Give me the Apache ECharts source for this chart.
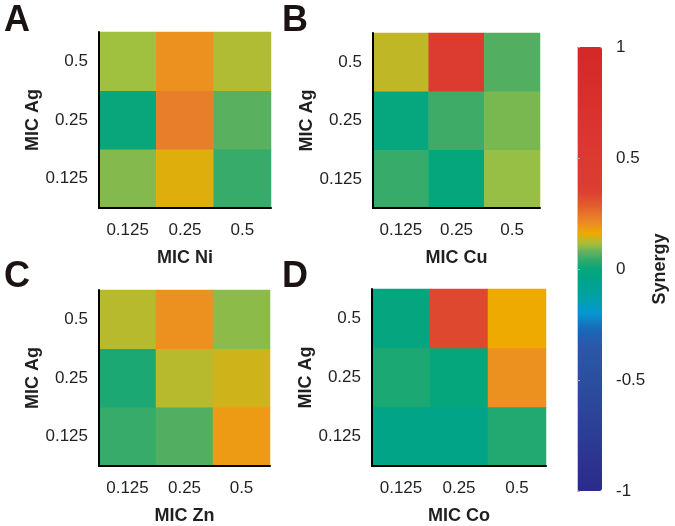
<!DOCTYPE html>
<html>
<head>
<meta charset="utf-8">
<script src="https://cdn.jsdelivr.net/npm/echarts@6/dist/echarts.min.js"></script>
<style>
  html, body { margin: 0; padding: 0; background: #fff; }
  #main { width: 675px; height: 526px; }
</style>
</head>
<body>
<div id="main"></div>
<script>
// MIC values on both axes
var micCats = ['0.125', '0.25', '0.5'];

// synergy scores, rows = MIC Ag (0.125, 0.25, 0.5), cols = other metal (0.125, 0.25, 0.5)
var synergyNi = [
    [0.095, 0.15, 0.045],
    [0.0, 0.23, 0.07],
    [0.11, 0.20, 0.12]
];
var synergyCu = [
    [0.045, -0.01, 0.105],
    [-0.015, 0.05, 0.09],
    [0.13, 0.40, 0.065]
];
var synergyZn = [
    [0.045, 0.065, 0.185],
    [0.02, 0.125, 0.14],
    [0.125, 0.20, 0.10]
];
var synergyCo = [
    [-0.04, -0.04, 0.025],
    [0.02, -0.01, 0.20],
    [-0.02, 0.33, 0.16]
];

var panels = ['A', 'B', 'C', 'D'];
var metalNames = ['MIC Ni', 'MIC Cu', 'MIC Zn', 'MIC Co'];

// colour bar stops
var colorStops = [
    [-1.0, '#2c2a8a'], [-0.5, '#2b4f9f'], [-0.35, '#2a58a8'], [-0.27, '#1a68b8'],
    [-0.2, '#0896d0'], [-0.13, '#00a0a8'], [-0.05, '#00a48a'], [0, '#08a67a'],
    [0.04, '#30aa6c'], [0.08, '#66b25a'], [0.11, '#a0c040'], [0.16, '#eeaa00'],
    [0.21, '#ec8a28'], [0.28, '#e2602e'], [0.35, '#dc3e30'], [0.6, '#dc3530'],
    [1.0, '#d42826']
];

function hexRgb(h) {
    return [parseInt(h.substr(1, 2), 16), parseInt(h.substr(3, 2), 16), parseInt(h.substr(5, 2), 16)];
}
function colorAt(v) {
    for (let i = 0; i < colorStops.length - 1; i++) {
        let a = colorStops[i], b = colorStops[i + 1];
        if (v >= a[0] && v <= b[0]) {
            let t = (v - a[0]) / (b[0] - a[0]);
            let ca = hexRgb(a[1]), cb = hexRgb(b[1]);
            let c = ca.map(function (x, k) { return Math.round(x + (cb[k] - x) * t); });
            return 'rgb(' + c.join(',') + ')';
        }
    }
    return colorStops[colorStops.length - 1][1];
}
var rampColors = [];
for (let i = 0; i <= 200; i++) {
    rampColors.push(colorAt(-1 + i * 0.01));
}

function toCells(m) {
    let out = [];
    for (let r = 0; r < m.length; r++) {
        for (let c = 0; c < m[r].length; c++) {
            out.push([c, r, m[r][c]]);
        }
    }
    return out;
}

var grids = [
    {left: 99, top: 32, width: 172, height: 176},
    {left: 373, top: 33, width: 167, height: 175},
    {left: 99, top: 290, width: 171, height: 176},
    {left: 372, top: 289, width: 174, height: 177},
    {left: 577, top: 47, width: 25, height: 444}   // colour bar axis
];
var datasets = [synergyNi, synergyCu, synergyZn, synergyCo];

var ink = '#231f20';
var xAxes = [], yAxes = [], series = [];
for (let i = 0; i < 4; i++) {
    xAxes.push({
        type: 'category', gridIndex: i, data: micCats, z: 10,
        axisLine: {lineStyle: {color: '#000', width: 2}},
        axisTick: {alignWithLabel: true, length: 6, lineStyle: {color: '#000', width: 2}},
        axisLabel: {fontSize: 17, color: ink, margin: 14},
        splitLine: {show: false},
        name: metalNames[i], nameLocation: 'middle', nameGap: 41,
        nameTextStyle: {fontSize: 18, fontWeight: 'bold', color: ink}
    });
    yAxes.push({
        type: 'category', gridIndex: i, data: micCats, z: 10,
        axisLine: {lineStyle: {color: '#000', width: 2}},
        axisTick: {alignWithLabel: true, length: 7, lineStyle: {color: '#000', width: 2}},
        axisLabel: {fontSize: 17, color: ink, margin: 11},
        splitLine: {show: false},
        name: 'MIC Ag', nameLocation: 'middle', nameGap: 57,
        nameTextStyle: {fontSize: 18, fontWeight: 'bold', color: ink}
    });
    series.push({
        type: 'heatmap', xAxisIndex: i, yAxisIndex: i,
        data: toCells(datasets[i])
    });
}
xAxes.push({type: 'value', gridIndex: 4, show: false, min: 0, max: 1});
yAxes.push({
    type: 'value', gridIndex: 4, position: 'right', min: -1, max: 1, interval: 0.5, z: 10,
    axisLine: {show: true, lineStyle: {color: '#c8c8c8', width: 1}},
    axisTick: {show: true, length: 3, lineStyle: {color: '#b0b0b0'}},
    axisLabel: {fontSize: 17, color: ink, margin: 14},
    splitLine: {show: false},
    name: 'Synergy', nameLocation: 'middle', nameRotate: 90, nameGap: 49,
    nameTextStyle: {fontSize: 18, fontWeight: 'bold', color: ink}
});

var letterPos = [[4, 3], [282, 3], [4, 259], [282, 259]];
var graphics = panels.map(function (p, i) {
    return {
        type: 'text', left: letterPos[i][0], top: letterPos[i][1],
        style: {text: p, font: 'bold 36px "Liberation Sans", Arial, sans-serif', fill: '#1a1311'}
    };
});

var myChart = echarts.init(document.getElementById('main'));
var option = {
    animation: false,
    textStyle: {fontFamily: '"Liberation Sans", Arial, sans-serif'},
    grid: grids,
    xAxis: xAxes,
    yAxis: yAxes,
    visualMap: {
        type: 'continuous', min: -1, max: 1, seriesIndex: [0, 1, 2, 3],
        left: 577, top: 47, itemWidth: 25, itemHeight: 444, padding: 0,
        calculable: false, hoverLink: false, text: null, showLabel: false,
        inRange: {color: rampColors}
    },
    graphic: graphics,
    series: series
};
myChart.setOption(option);
</script>
</body>
</html>
